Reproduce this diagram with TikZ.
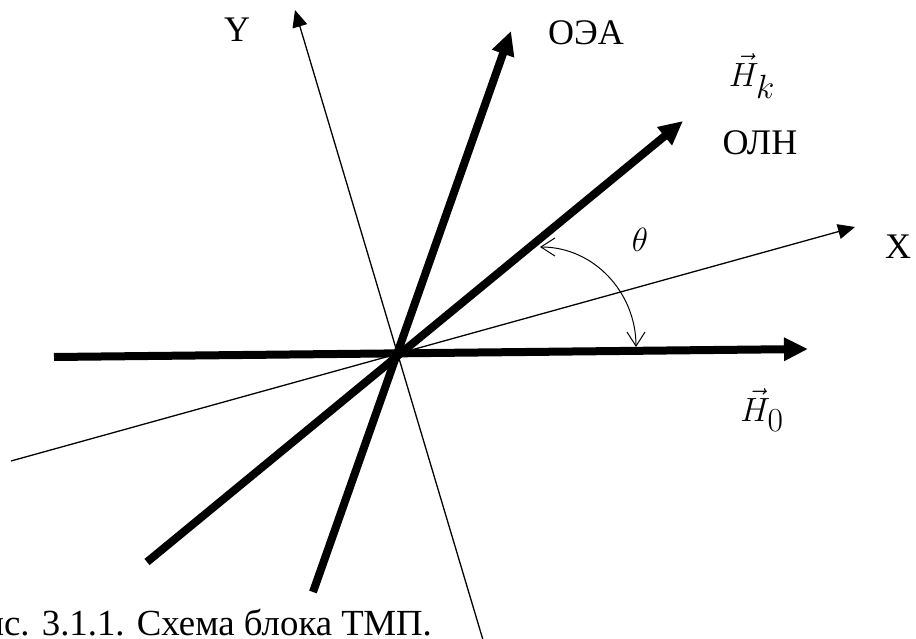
\documentclass[tikz,border=0pt]{standalone}
\usepackage{fontspec}
\setmainfont{Liberation Serif}
\usepackage{amsmath,amssymb}
\usepackage{graphicx}
\usepackage{tikz}
\usetikzlibrary{arrows.meta, positioning, calc}

\begin{document}
\begin{tikzpicture}[
  x=1pt, y=-1pt,
  font=\fontsize{36}{42}\selectfont,
  heavy/.style={line width=8pt, -{Triangle[length=24pt, width=22pt]}},
  axisline/.style={line width=1.3pt, -{Triangle[length=17pt, width=15pt]}},
  angarr/.style={line width=1pt, {Straight Barb[length=14pt, width=18pt]}-{Straight Barb[length=14pt, width=18pt]}},
  lbl/.style={inner sep=0pt}
]
\useasboundingbox (0,0) rectangle (916,639);
\clip (0,0) rectangle (916,639);
% axes and field directions
\coordinate (o) at (397,353);
\coordinate (h0a) at (54,357);   \coordinate (h0b) at (808,349);
\coordinate (oea) at (313,592);  \coordinate (oeb) at (511,31);
\coordinate (ola) at (147,562);  \coordinate (olb) at (683,121);
\coordinate (xa) at (11,461);    \coordinate (xb) at (855,227);
\coordinate (ya) at (486,650);   \coordinate (yb) at (295,10);
\coordinate (tha) at (540,247);  \coordinate (thb) at (636,347);
\draw[axisline] (xa) -- (xb);
\draw[axisline] (ya) -- (yb);
\draw[heavy] (h0a) -- (h0b);
\draw[heavy] (oea) -- (oeb);
\draw[heavy] (ola) -- (olb);
\draw[angarr] (tha) to[out=0, in=90] (thb);
% labels
\node[lbl] (ylab) at (237,30) {Y};
\node[lbl] (xlab) at (898,247) {X};
\node[lbl] (oealab) at (586,33) {ОЭА};
\node[lbl] (ollab) at (760,143) {ОЛН};
\node[lbl] (hk) at (752,76) {\scalebox{1.35}{$\vec{H}_k$}};
\node[lbl] (h0) at (762,410) {\scalebox{1.35}{$\vec{H}_0$}};
\node[lbl] (th) at (640,240) {\scalebox{1.35}{$\theta$}};
\node[lbl, anchor=base east, font=\fontsize{36.8}{44}\selectfont] (cap) at (432,635) {Рис. 3.1.1. Схема блока ТМП.};
\end{tikzpicture}
\end{document}
